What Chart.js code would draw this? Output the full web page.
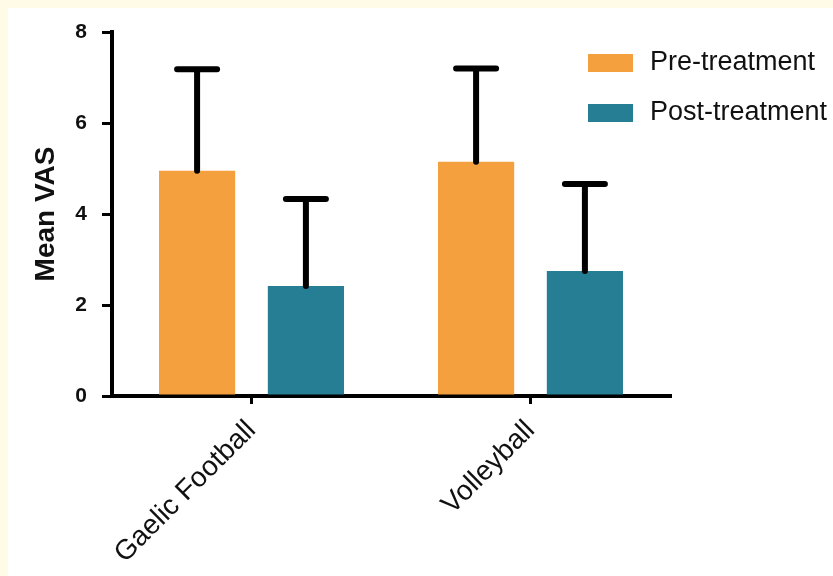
<!DOCTYPE html>
<html>
<head>
<meta charset="utf-8">
<script src="https://cdn.jsdelivr.net/npm/chart.js@4.4.1/dist/chart.umd.min.js"></script>
<style>
  html, body { margin: 0; padding: 0; background: #fffbe6; }
  #wrap { position: absolute; left: 8px; top: 8px; width: 825px; height: 568px; background: #ffffff; }
  canvas { display: block; }
</style>
</head>
<body>
<div id="wrap"><canvas id="canvas" width="825" height="568"></canvas></div>
<script>
  var categories = ["Gaelic Football", "Volleyball"];
  var seriesNames = ["Pre-treatment", "Post-treatment"];
  var preMean = [4.95, 5.15];
  var preSD = [2.23, 2.05];
  var postMean = [2.42, 2.75];
  var postSD = [1.91, 1.91];
  var yTicks = [0, 2, 4, 6, 8];

  var barColors = ["#f5a03f", "#267e94"];
  var FONT = "'Liberation Sans', Arial, sans-serif";

  // upper error bars (mean + SD), drawn from the bar elements
  var errorBars = {
    id: "errorBars",
    afterDatasetsDraw: function (chart) {
      var ctx = chart.ctx;
      var yScale = chart.scales.y;
      ctx.save();
      ctx.strokeStyle = "#000";
      ctx.lineWidth = 6;
      ctx.lineCap = "round";
      chart.data.datasets.forEach(function (ds, i) {
        var meta = chart.getDatasetMeta(i);
        meta.data.forEach(function (bar, j) {
          var top = yScale.getPixelForValue(ds.data[j] + ds.errors[j]);
          ctx.beginPath();
          ctx.moveTo(bar.x, bar.y);
          ctx.lineTo(bar.x, top);
          ctx.moveTo(bar.x - 20, top);
          ctx.lineTo(bar.x + 20, top);
          ctx.stroke();
        });
      });
      ctx.restore();
    }
  };

  // legend placed in the upper right corner, over the plot
  var sideLegend = {
    id: "sideLegend",
    afterDraw: function (chart) {
      var ctx = chart.ctx;
      ctx.save();
      ctx.font = "27px " + FONT;
      ctx.textBaseline = "middle";
      chart.data.datasets.forEach(function (ds, i) {
        var y = 55 + i * 50;
        ctx.fillStyle = ds.backgroundColor;
        ctx.fillRect(580, y - 9, 45, 18);
        ctx.fillStyle = "#111";
        ctx.fillText(ds.label, 642, y);
      });
      ctx.restore();
    }
  };

  var barChartData = {
    labels: categories,
    datasets: [
      {
        label: seriesNames[0],
        data: preMean,
        errors: preSD,
        backgroundColor: barColors[0],
        categoryPercentage: 0.78,
        barPercentage: 0.70,
      },
      {
        label: seriesNames[1],
        data: postMean,
        errors: postSD,
        backgroundColor: barColors[1],
        categoryPercentage: 0.78,
        barPercentage: 0.70,
      }
    ],
  };

  var ctx = document.getElementById("canvas").getContext("2d");
  var myBar = new Chart(ctx, {
    type: "bar",
    data: barChartData,
    plugins: [errorBars, sideLegend],
    options: {
      responsive: false,
      animation: false,
      layout: { padding: { left: 17, right: 163, top: 24, bottom: 0 } },
      plugins: {
        legend: { display: false },
        tooltip: { enabled: false },
      },
      scales: {
        x: {
          z: 1,
          offset: true,
          border: { display: true, color: "#000", width: 4 },
          grid: { drawOnChartArea: false, offset: false, color: "#000", lineWidth: 3, tickLength: 8 },
          ticks: {
            color: "#111",
            font: { family: FONT, size: 28 },
            minRotation: 45,
            maxRotation: 45,
            padding: 10,
          },
          afterFit: function (s) { s.height = 180; },
        },
        y: {
          min: 0,
          max: 8,
          afterBuildTicks: function (s) {
            s.ticks = yTicks.map(function (v) { return { value: v }; });
          },
          border: { display: true, color: "#000", width: 4 },
          grid: { drawOnChartArea: false, color: "#000", lineWidth: 3, tickLength: 10 },
          ticks: {
            color: "#111",
            font: { family: FONT, size: 21, weight: "bold" },
            padding: 15,
          },
          title: {
            display: true,
            text: "Mean VAS",
            color: "#111",
            font: { family: FONT, size: 28, weight: "bold" },
            padding: 4,
          },
          afterFit: function (s) {
            s.width = 87;
            s.paddingTop = 0;
            s.paddingBottom = 0;
          },
        },
      },
    },
  });
</script>
</body>
</html>
